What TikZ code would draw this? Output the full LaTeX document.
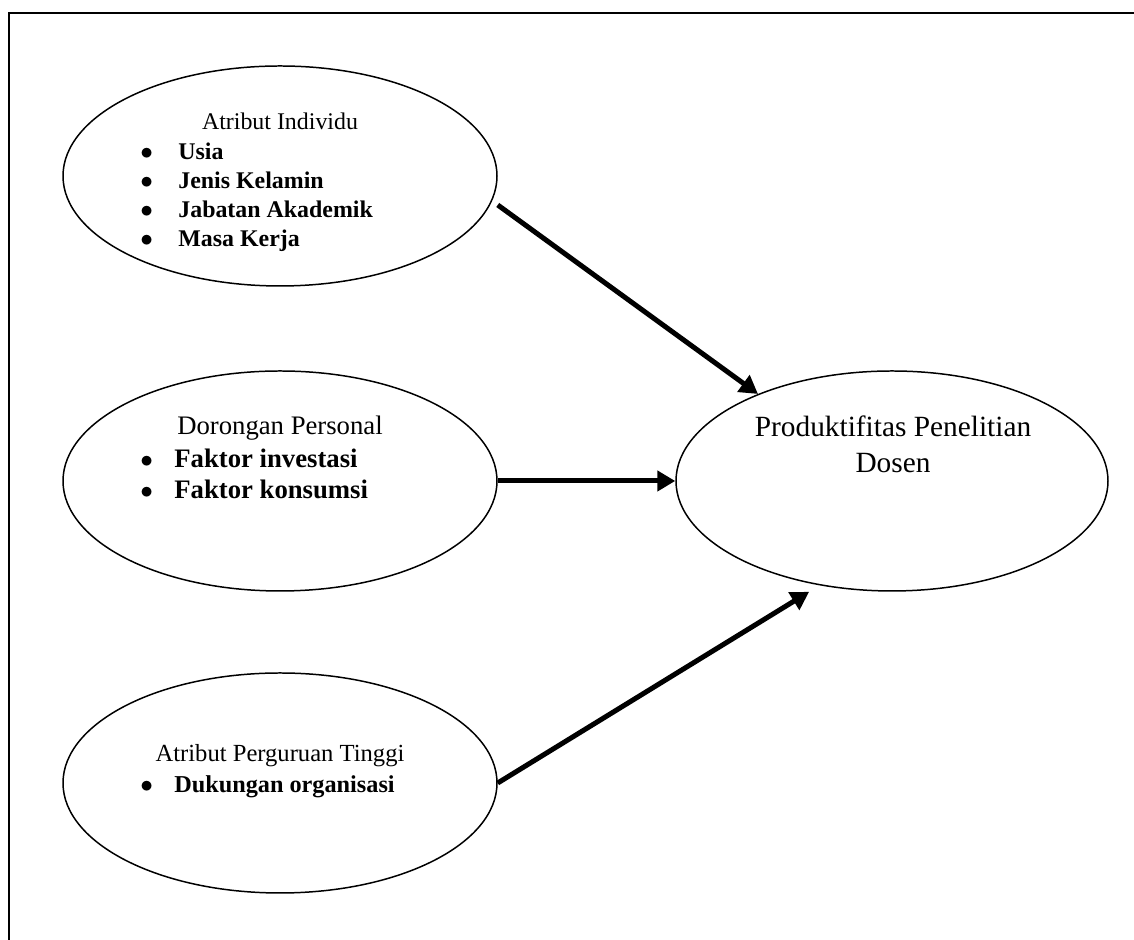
\documentclass[tikz,border=0pt]{standalone}
\usepackage{fontspec}
\setmainfont{Liberation Serif}
\usetikzlibrary{shapes.geometric,arrows.meta}

\begin{document}
\begin{tikzpicture}[
        oval/.style={draw, ellipse, line width=0.85pt, minimum width=8.68cm, minimum height=4.4cm, inner sep=0pt},
        link/.style={line width=2.85pt, -{Triangle[length=0.36cm, width=0.4cm]}},
        txt/.style={inner sep=0pt, anchor=base},
        item/.style={inner sep=0pt, anchor=base west}
    ]
    \useasboundingbox (0, 0) rectangle (22.68, 18.8);
    \draw[line width=1.1pt] (22.68, 18.54) -- (0.18, 18.54) -- (0.18, 0);

    \node[oval] (indiv)  at ( 5.6 , 15.28) {};
    \node[oval] (dorong) at ( 5.6 ,  9.18) {};
    \node[oval] (pt)     at ( 5.6 ,  3.14) {};
    \node[oval, minimum width=8.64cm] (prod) at (17.84, 9.18) {};

    \node[txt, font=\fontsize{13.6}{16}\selectfont] (indiv-title) at (5.6, 16.2) {Atribut Individu};
    \foreach \lbl [count=\i] in {Usia, Jenis Kelamin, Jabatan Akademik, Masa Kerja}
        \node[item, font=\fontsize{13.6}{16}\selectfont\bfseries] (indiv-\i) at (2.8, 16.18 - 0.58*\i)
            {\makebox[0.76cm][l]{$\bullet$}\lbl};

    \node[txt, font=\fontsize{15.2}{18}\selectfont] (dorong-title) at (5.6, 10.1) {Dorongan Personal};
    \foreach \lbl [count=\i] in {Faktor investasi, Faktor konsumsi}
        \node[item, font=\fontsize{15.2}{18}\selectfont\bfseries] (dorong-\i) at (2.8, 10.08 - 0.63*\i)
            {\makebox[0.68cm][l]{$\bullet$}\lbl};

    \node[txt, font=\fontsize{14}{17}\selectfont] (pt-title) at (5.6, 3.56) {Atribut Perguruan Tinggi};
    \node[item, font=\fontsize{13.8}{17}\selectfont\bfseries] (pt-1) at (2.8, 2.94)
        {\makebox[0.68cm][l]{$\bullet$}Dukungan organisasi};

    \node[txt, font=\fontsize{16.7}{20}\selectfont] (prod-1) at (17.86, 10.06) {Produktifitas Penelitian};
    \node[txt, font=\fontsize{16.7}{20}\selectfont] (prod-2) at (17.86,  9.34) {Dosen};

    \draw[link] ([yshift=-0.58cm]indiv.east) -- (prod.147);
    \draw[link] (dorong.east) -- (prod.west);
    \draw[link] (pt.east) -- ([yshift=-0.17cm]prod.231);
\end{tikzpicture}
\end{document}
